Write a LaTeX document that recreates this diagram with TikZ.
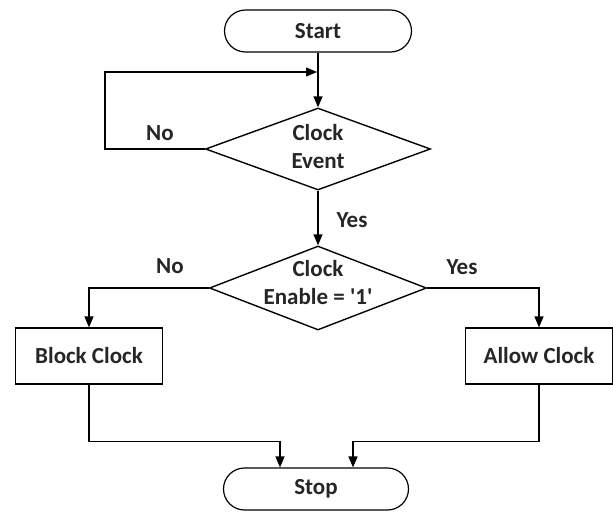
\documentclass[tikz,border=0pt]{standalone}
\usepackage{fontspec}
\setmainfont{Carlito}[Ligatures=TeXOff]
\usetikzlibrary{shapes.geometric,arrows.meta}
\begin{document}
\begin{tikzpicture}[x=1pt,y=-1pt,
  every node/.style={font=\fontsize{23}{28}\selectfont\bfseries, text=black!85},
  term/.style={draw, line width=1.2pt, rounded corners=21pt, minimum width=187pt, minimum height=42pt, inner sep=0pt},
  dec/.style={draw, shape=diamond, line width=1.4pt, inner sep=0pt},
  proc/.style={draw, line width=1.2pt, minimum width=147pt, minimum height=56pt, inner sep=0pt},
  lbl/.style={align=center, inner sep=0pt},
  conn/.style={line width=1.4pt, -{Triangle[length=11pt,width=9pt]}}]
\useasboundingbox (0,0) rectangle (613,512);
\fill[white] (0,0) rectangle (613,512);
\node[term] (start) at (318,31) {Start};
\node[dec, minimum width=225pt, minimum height=82pt] (d1) at (318,149) {};
\node[lbl] (d1t) at (318,147) {Clock\\Event};
\node[dec, minimum width=217pt, minimum height=84pt] (d2) at (318,288) {};
\node[lbl] (d2t) at (318,283) {Clock\\Enable = '1'};
\node[proc] (blk) at (89,356) {Block Clock};
\node[proc] (alw) at (539,356) {Allow Clock};
\node[term, minimum width=185pt] (stop) at (316,489) {Stop};
\coordinate (loopin) at (317,72);
% connectors
\draw[conn] (start.south) -- (d1.north);
\draw[conn] (d1.west) -- ++(-100,0) |- (loopin);
\draw[conn] (d1.south) -- (d2.north);
\draw[conn] (d2.west) -| (blk.north);
\draw[conn] (d2.east) -| (alw.north);
\draw[conn] (blk.south) -- ++(0,57) -| ([xshift=-36pt]stop.north);
\draw[conn] (alw.south) -- ++(0,57) -| ([xshift=37pt]stop.north);
% labels
\node (no1) at (160,133) {No};
\node (yes1) at (352,220) {Yes};
\node (no2) at (170,266) {No};
\node (yes2) at (462,267) {Yes};
\end{tikzpicture}
\end{document}
